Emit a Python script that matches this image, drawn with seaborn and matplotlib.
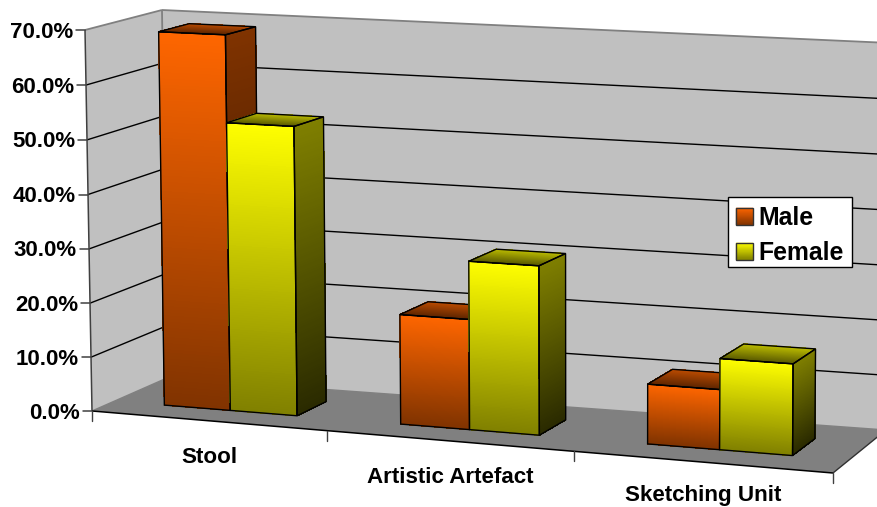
"""Gender split per concept type, drawn as an Excel-style 3D bar chart."""

import matplotlib

matplotlib.use("Agg")

import matplotlib.pyplot as plt
import numpy as np
import pandas as pd
import seaborn as sns
from matplotlib.collections import PolyCollection
from matplotlib.colors import to_rgb
from matplotlib.legend_handler import HandlerBase
from matplotlib.patches import Patch, Polygon, Rectangle
from matplotlib.transforms import Transform

CATEGORIES = ["Stool", "Artistic Artefact", "Sketching Unit"]
MALE_VALUES = [69.0, 20.0, 10.7]
FEMALE_VALUES = [53.0, 30.5, 16.2]
VALUE_TICKS = [0, 10, 20, 30, 40, 50, 60, 70]

# colours per series: front top, front bottom, side bottom, lid back, lid front
SHADES = {
    "Male": ("#ff6600", "#803300", "#2b1100", "#c04d00", "#602600"),
    "Female": ("#ffff00", "#808000", "#2a2a00", "#c0c000", "#5c5c00"),
}

WIDTH, HEIGHT = 877, 507
U_MIN, U_MAX, V_MAX = -0.5, 2.5, 70.0
BAR_FRONT, BAR_BACK = 0.30, 0.70

# chart box corners in pixels: top left, bottom left, bottom right, top right
FRONT_CORNERS = [(85, 30), (92, 411), (833, 473), (836, 64)]
BACK_CORNERS = [(162, 10), (167, 378), (886, 430), (890, 43)]


def homography(corners):
    """Solve the plane mapping (u, v) to pixels from the four box corners."""
    source = [(U_MIN, V_MAX), (U_MIN, 0), (U_MAX, 0), (U_MAX, V_MAX)]
    rows, targets = [], []
    for (u, v), (x, y) in zip(source, corners):
        rows.append([u, v, 1, 0, 0, 0, -u * x, -v * x])
        rows.append([0, 0, 0, u, v, 1, -u * y, -v * y])
        targets += [x, y]
    return np.append(np.linalg.solve(rows, targets), 1).reshape(3, 3)


FRONT_PLANE = homography(FRONT_CORNERS)
BACK_PLANE = homography(BACK_CORNERS)


def project(u, v, depth):
    """Chart coordinates (category axis, percent, depth 0-1) to pixels."""
    u, v, depth = np.broadcast_arrays(u, v, depth)
    points = np.stack([u, v, np.ones_like(u, dtype=float)])
    front = FRONT_PLANE @ points
    back = BACK_PLANE @ points
    front = front[:2] / front[2]
    back = back[:2] / back[2]
    return ((1 - depth) * front + depth * back).T


class BarFrontPlane(Transform):
    """Puts the seaborn rectangles on the front plane of the bars."""

    input_dims = output_dims = 2

    def transform_non_affine(self, values):
        values = np.asarray(values, dtype=float)
        return project(values[:, 0], values[:, 1], BAR_FRONT)


def gradient_face(axis, corners, start, end, zorder, outline=True):
    """Fill a quad (top a, top b, bottom b, bottom a) with a vertical gradient."""
    corners = np.asarray(corners, dtype=float)
    steps = np.linspace(0, 1, 121)
    left = corners[0] + np.outer(steps, corners[3] - corners[0])
    right = corners[1] + np.outer(steps, corners[2] - corners[1])
    left_px = project(*left.T)
    right_px = project(*right.T)
    strips = [
        [left_px[i], right_px[i], right_px[i + 1], left_px[i + 1]] for i in range(len(steps) - 1)
    ]
    start_rgb, end_rgb = np.array(to_rgb(start)), np.array(to_rgb(end))
    colors = [start_rgb + (end_rgb - start_rgb) * s for s in (steps[:-1] + steps[1:]) / 2]
    axis.add_collection(
        PolyCollection(strips, facecolors=colors, edgecolors=colors, linewidths=0.3, antialiaseds=False, zorder=zorder),
        autolim=False,
    )
    if outline:
        axis.add_patch(
            Polygon(project(*corners.T), closed=True, fill=False, edgecolor="black", linewidth=1.0, zorder=zorder + 0.5)
        )


def draw_line(axis, start, end, color="black", width=1.0, zorder=2):
    points = project(*np.array([start, end], dtype=float).T)
    axis.plot(points[:, 0], points[:, 1], color=color, linewidth=width, zorder=zorder, solid_capstyle="butt")


class GradientSwatch(HandlerBase):
    """Legend key with the same top-to-bottom shading as the bars."""

    def create_artists(self, legend, orig_handle, xdescent, ydescent, width, height, fontsize, trans):
        start, end = orig_handle.shade
        steps = np.linspace(0, 1, 25)
        artists = []
        for low, high in zip(steps[:-1], steps[1:]):
            color = np.array(to_rgb(start)) + (np.array(to_rgb(end)) - np.array(to_rgb(start))) * low
            artists.append(
                Rectangle(
                    (-xdescent, -ydescent + height * (1 - high)),
                    width,
                    height * (high - low),
                    facecolor=color,
                    edgecolor=color,
                    linewidth=0.2,
                    transform=trans,
                )
            )
        artists.append(
            Rectangle((-xdescent, -ydescent), width, height, fill=False, edgecolor="#333333", linewidth=1.0, transform=trans)
        )
        return artists


sns.set_style("white")
plt.rcParams["font.family"] = ["Liberation Sans", "DejaVu Sans"]
plt.rcParams["font.weight"] = "bold"
plt.rcParams["text.color"] = "black"

shares = pd.DataFrame(
    {
        "category": CATEGORIES * 2,
        "gender": ["Male"] * 3 + ["Female"] * 3,
        "share": MALE_VALUES + FEMALE_VALUES,
    }
)

figure = plt.figure(figsize=(WIDTH / 100, HEIGHT / 100), dpi=100)
axis = figure.add_axes([0, 0, 1, 1])
sns.barplot(
    data=shares, x="category", y="share", hue="gender", order=CATEGORIES,
    hue_order=["Male", "Female"], width=0.567, gap=0, legend=False, ax=axis,
)
axis.set_xlim(0, WIDTH)
axis.set_ylim(HEIGHT, 0)
axis.axis("off")

# walls and floor
axis.add_patch(Polygon(project([U_MIN, U_MAX, U_MAX, U_MIN], [V_MAX, V_MAX, 0, 0], 1.0), facecolor="#c0c0c0", edgecolor="none", zorder=1))
axis.add_patch(Polygon(project(U_MIN, [V_MAX, 0, 0, V_MAX], [0, 0, 1, 1]), facecolor="#c0c0c0", edgecolor="none", zorder=1))
axis.add_patch(Polygon(project([U_MIN, U_MAX, U_MAX, U_MIN], 0, [0, 0, 1, 1]), facecolor="#808080", edgecolor="none", zorder=1))

for value in VALUE_TICKS[1:-1]:
    draw_line(axis, (U_MIN, value, 0), (U_MIN, value, 1))
    draw_line(axis, (U_MIN, value, 1), (U_MAX, value, 1))

# box edges
edge = "#808080"
draw_line(axis, (U_MIN, V_MAX, 0), (U_MIN, V_MAX, 1), edge, 1.3)
draw_line(axis, (U_MIN, V_MAX, 1), (U_MAX, V_MAX, 1), edge, 1.3)
draw_line(axis, (U_MIN, V_MAX, 1), (U_MIN, 0, 1), edge, 1.3)
draw_line(axis, (U_MIN, 0, 0), (U_MIN, 0, 1), edge, 1.0)
draw_line(axis, (U_MIN, 0, 1), (U_MAX, 0, 1), edge, 1.0)
draw_line(axis, (U_MIN, V_MAX, 0), (U_MIN, 0, 0), "#404040", 1.1, 3)
draw_line(axis, (U_MIN, 0, 0), (U_MAX, 0, 0), "black", 1.1, 3)
draw_line(axis, (U_MAX, 0, 0), (U_MAX, 0, 1), "#303030", 1.0, 3)

# value axis ticks and labels
for value in VALUE_TICKS:
    x, y = project(U_MIN, value, 0.0)
    axis.plot([x - 9, x], [y, y], color="#404040", linewidth=1.1, zorder=3)
    axis.text(x - 12, y + 2, f"{value:.1f}%", ha="right", va="center", fontsize=16.0, fontweight="bold", color="black")

# category axis ticks and labels, the last one is kept inside the figure
for boundary in np.arange(U_MIN, U_MAX + 1):
    x, y = project(boundary, 0.0, 0.0)
    axis.plot([x, x], [y, y + 10], color="#404040", linewidth=1.0, zorder=3)
for index, name in enumerate(CATEGORIES):
    x, y = project(float(index), 0.0, 0.0)
    baseline = min(y + 42, HEIGHT - 6)
    axis.text(x + 1, baseline, name, ha="center", va="baseline", fontsize=16.1, fontweight="bold", color="black")

# bars: seaborn gives the rectangles, the projection gives them depth
zorder = 4
front_plane = BarFrontPlane() + axis.transData
bars = []
for gender, container in zip(["Male", "Female"], axis.containers):
    for bar in container:
        bars.append((gender, bar))
bars.sort(key=lambda item: item[1].get_x())

for gender, bar in bars:
    left, right = bar.get_x(), bar.get_x() + bar.get_width()
    top = bar.get_height()
    front_top, front_bottom, side_bottom, lid_back, lid_front = SHADES[gender]
    gradient_face(axis, [(left, top, BAR_FRONT), (right, top, BAR_FRONT), (right, 0, BAR_FRONT), (left, 0, BAR_FRONT)], front_top, front_bottom, zorder, outline=False)
    gradient_face(axis, [(right, top, BAR_FRONT), (right, top, BAR_BACK), (right, 0, BAR_BACK), (right, 0, BAR_FRONT)], front_bottom, side_bottom, zorder)
    gradient_face(axis, [(left, top, BAR_BACK), (right, top, BAR_BACK), (right, top, BAR_FRONT), (left, top, BAR_FRONT)], lid_back, lid_front, zorder)
    bar.set_transform(front_plane)
    bar.set_facecolor("none")
    bar.set_edgecolor("black")
    bar.set_linewidth(1.0)
    bar.set_zorder(zorder + 0.6)
    zorder += 1

# legend box is sized to the original frame, the entries sit on top of it
axis.add_patch(Rectangle((728, 197), 124, 70, facecolor="white", edgecolor="black", linewidth=1.0, zorder=99))
handles = []
for gender in ["Male", "Female"]:
    handle = Patch(label=gender)
    handle.shade = SHADES[gender][:2]
    handles.append(handle)
legend = axis.legend(
    handles=handles,
    handler_map={Patch: GradientSwatch()},
    loc="upper left",
    bbox_to_anchor=(727 / WIDTH, 1 - 197 / HEIGHT),
    bbox_transform=figure.transFigure,
    prop={"weight": "bold", "size": 17.8},
    labelcolor="black",
    frameon=False,
    borderaxespad=0,
    borderpad=0.36,
    handlelength=0.68,
    handleheight=0.68,
    handletextpad=0.22,
    labelspacing=0.44,
)
legend.set_zorder(100)

figure.savefig("out.png", dpi=100)
